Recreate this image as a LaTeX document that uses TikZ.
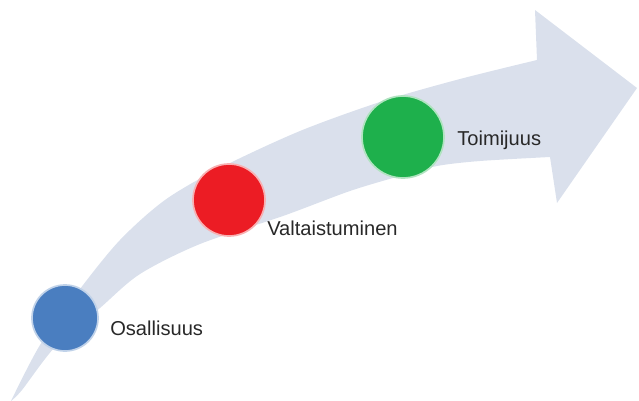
\documentclass[tikz,border=0pt]{standalone}
\usepackage{fontspec}
\setmainfont{Liberation Sans}
\usepackage{xcolor}
\usepackage{tikz}
\usetikzlibrary{positioning}
\definecolor{bandgray}{RGB}{218, 224, 236}
\definecolor{stepblue}{RGB}{74, 126, 192}
\definecolor{stepred}{RGB}{236, 28, 36}
\definecolor{stepgreen}{RGB}{30, 176, 76}
\definecolor{labelgray}{RGB}{40, 40, 40}

\begin{document}
\begin{tikzpicture}[x=0.025cm, y=-0.025cm,
  stepdot/.style={circle, inner sep=0pt, line width=1.2pt},
  steplabel/.style={anchor=west, inner sep=0pt, text=labelgray, font=\fontsize{14.3}{16}\selectfont}]
  \useasboundingbox (0,0) rectangle (639,401);
  % curved arrow
  \fill[bandgray] plot[smooth, tension=0.5] coordinates {(11,401) (40,345) (80,289) (120,240) (165,200) (220,168) (300,131) (383,101) (460,79) (537,60)}
    -- (535,10) -- (637,88) -- (557,203) -- (550,157)
    -- plot[smooth, tension=0.5] coordinates {(550,157) (480,161) (437,166) (400,176) (350,191) (283,216) (200,244) (140,274) (100,308) (55,347) (22,390) (11,401)} -- cycle;
  % steps
  \node[stepdot, fill=stepblue, draw=stepblue!35!white, minimum size=1.65cm] (osal) at (65,318) {};
  \node[stepdot, fill=stepred, draw=stepred!35!white, minimum size=1.8cm] (valt) at (229,200) {};
  \node[stepdot, fill=stepgreen, draw=stepgreen!35!white, minimum size=2.05cm] (toim) at (403,137) {};
  \node[steplabel] (osallabel) at (110,328) {Osallisuus};
  \node[steplabel] (valtlabel) at (267,228) {Valtaistuminen};
  \node[steplabel] (toimlabel) at (457,140) {Toimijuus};
\end{tikzpicture}
\end{document}
